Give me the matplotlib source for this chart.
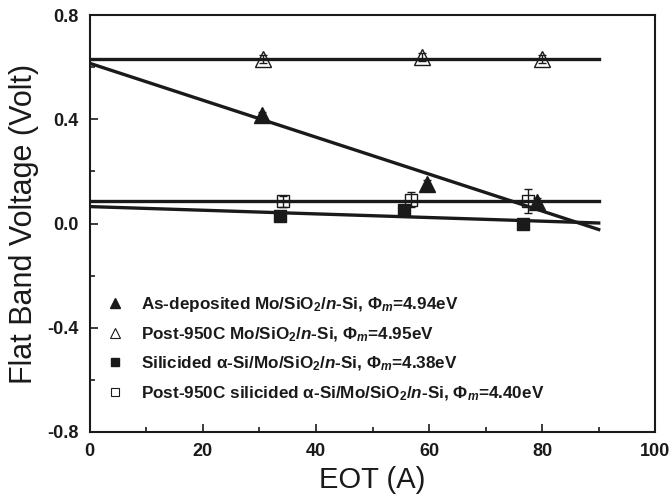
import matplotlib
matplotlib.use('Agg')
import matplotlib.pyplot as plt
from matplotlib.ticker import MultipleLocator, FormatStrFormatter
from matplotlib.lines import Line2D

plt.rcParams['font.family'] = ['Liberation Sans', 'DejaVu Sans']
plt.rcParams['mathtext.fontset'] = 'custom'
plt.rcParams['mathtext.rm'] = 'Liberation Sans:bold'
plt.rcParams['mathtext.bf'] = 'Liberation Sans:bold'
plt.rcParams['mathtext.it'] = 'Liberation Sans:bold:italic'
plt.rcParams['axes.unicode_minus'] = False

# measured points
eot_asdep = [30.5, 59.6, 79.1]
vfb_asdep = [0.415, 0.153, 0.082]
err_asdep = [0.015, 0.015, 0.015]

eot_post = [30.6, 58.8, 80.0]
vfb_post = [0.632, 0.638, 0.630]
err_post = [0.015, 0.015, 0.015]

eot_sil = [33.6, 55.6, 76.6]
vfb_sil = [0.027, 0.050, 0.000]
err_sil = [0.010, 0.010, 0.010]

eot_postsil = [34.1, 56.8, 77.5]
vfb_postsil = [0.085, 0.092, 0.088]
err_postsil = [0.020, 0.030, 0.046]

# fitted lines (x ends, y ends)
fit_x = [0, 90]
fit_asdep = [0.615, -0.023]
fit_post = [0.630, 0.630]
fit_sil = [0.065, 0.002]
fit_postsil = [0.085, 0.085]

labels = [
    r'As-deposited Mo/SiO$_{2}$/$\it{n}$-Si, Φ$_{\it{m}}$=4.94eV',
    r'Post-950C Mo/SiO$_{2}$/$\it{n}$-Si, Φ$_{\it{m}}$=4.95eV',
    r'Silicided α-Si/Mo/SiO$_{2}$/$\it{n}$-Si, Φ$_{\it{m}}$=4.38eV',
    r'Post-950C silicided α-Si/Mo/SiO$_{2}$/$\it{n}$-Si, Φ$_{\it{m}}$=4.40eV',
]

fig = plt.figure(figsize=(6.7, 5.04), dpi=100)
ax = fig.add_axes([0.134, 0.143, 0.844, 0.827])

lc = '#1a1a1a'
for y in [fit_asdep, fit_post, fit_sil, fit_postsil]:
    ax.plot(fit_x, y, color=lc, lw=2.4, zorder=2)

ebkw = dict(ecolor=lc, elinewidth=1, capsize=3, capthick=1, ls='none', zorder=3)
ax.errorbar(eot_asdep, vfb_asdep, yerr=err_asdep, marker='^', ms=11,
            mfc=lc, mec=lc, **ebkw)
ax.errorbar(eot_post, vfb_post, yerr=err_post, marker='^', ms=11,
            mfc='none', mec=lc, mew=1, **ebkw)
ax.errorbar(eot_sil, vfb_sil, yerr=err_sil, marker='s', ms=9,
            mfc=lc, mec=lc, **ebkw)
ax.errorbar(eot_postsil, vfb_postsil, yerr=err_postsil, marker='s', ms=9,
            mfc='none', mec=lc, mew=1, **ebkw)

# legend handles: marker only
handles = [
    Line2D([], [], ls='none', marker='^', ms=7, mfc=lc, mec=lc),
    Line2D([], [], ls='none', marker='^', ms=7, mfc='none', mec=lc, mew=0.8),
    Line2D([], [], ls='none', marker='s', ms=6, mfc=lc, mec=lc),
    Line2D([], [], ls='none', marker='s', ms=6, mfc='none', mec=lc, mew=0.8),
]
ax.legend(handles, labels, loc='upper left', bbox_to_anchor=(0.0, 0.365),
          frameon=False, handlelength=1.2, handletextpad=0.9, labelspacing=0.65,
          prop={'weight': 'bold', 'size': 12.3}, labelcolor=lc)

ax.set_xlim(0, 100)
ax.set_ylim(-0.8, 0.8)
ax.xaxis.set_major_locator(MultipleLocator(20))
ax.xaxis.set_minor_locator(MultipleLocator(10))
ax.yaxis.set_major_locator(MultipleLocator(0.4))
ax.yaxis.set_minor_locator(MultipleLocator(0.2))
ax.yaxis.set_major_formatter(FormatStrFormatter('%.1f'))
ax.tick_params(which='both', direction='in', top=False, right=False,
               labelsize=13, width=1.2, colors=lc, pad=8)
ax.tick_params(which='major', length=6)
ax.tick_params(which='minor', length=3.5)
for lab in ax.get_xticklabels() + ax.get_yticklabels():
    lab.set_fontweight('bold')
for s in ax.spines.values():
    s.set_linewidth(1.5)
    s.set_color(lc)

ax.set_xlabel('EOT (A)', fontsize=21, color=lc, labelpad=4)
ax.set_ylabel('Flat Band Voltage (Volt)', fontsize=22, color=lc, labelpad=6)

fig.savefig('out.png', dpi=100)
